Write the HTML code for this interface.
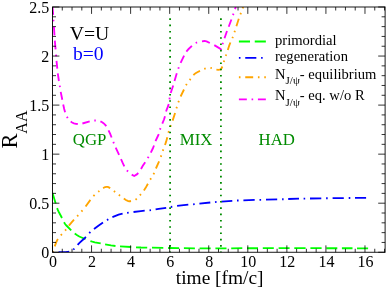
<!DOCTYPE html>
<html><head><meta charset="utf-8"><title>R_AA vs time</title>
<style>html,body{margin:0;padding:0;background:#fff;width:386px;height:288px;overflow:hidden}body{font-family:"Liberation Serif",serif;position:relative}</style>
</head><body>
<svg width="386" height="288" viewBox="0 0 386 288" style="display:block;position:absolute;left:0;top:0;will-change:transform" font-family="Liberation Serif, serif">
<rect width="386" height="288" fill="#fff"/>
<defs><clipPath id="c"><rect x="52.50" y="7.00" width="332.60" height="245.25"/></clipPath></defs>
<g fill="none" stroke-width="1.85" clip-path="url(#c)">
<path d="M52.5 193.0L55.7 203.6M57.1 208.1L57.9 210.2L58.8 212.0L62.0 218.0M64.0 222.3L65.1 224.0L66.4 225.5L71.2 230.4M74.7 233.5L77.2 235.2L79.3 236.5L81.6 237.5L85.5 239.1M90.4 241.1L92.3 241.7L94.8 242.3L100.7 243.4M105.1 244.3L111.0 245.4L115.5 246.0M120.0 246.3L131.2 247.0M136.0 247.3L141.0 247.5L147.2 247.6M152.0 247.6L163.3 247.8M168.1 248.0L179.1 248.2M183.9 248.2L194.9 248.3M199.6 248.4L210.7 248.4M215.4 248.4L226.5 248.3M231.2 248.3L242.3 248.2M247.0 248.2L258.0 248.2M262.8 248.1L273.8 248.1M278.6 248.1L289.6 248.1M294.3 248.1L305.6 248.1M310.4 248.1L321.6 248.1M326.4 248.2L337.3 248.2M341.9 248.2L352.5 248.2M357.0 248.3L368.1 248.3" stroke="#00ff00"/>
<path d="M52.5 252.3L54.0 252.3M58.6 252.2L66.5 252.0L68.0 251.9L69.2 251.7M73.3 249.6L74.4 248.6M77.6 244.8L79.5 242.8L84.0 238.8L85.9 236.9M89.2 233.2L90.4 232.0M94.0 229.0L98.4 225.7L103.0 222.6M107.0 220.1L108.3 219.3M112.4 217.2L118.6 214.7L120.5 214.1L122.6 213.6M127.1 212.8L128.7 212.6M133.5 212.0L140.8 211.1L144.7 210.7M149.5 210.4L151.0 210.2M155.6 209.3L158.7 208.8L166.2 207.8M170.8 207.0L172.3 206.7M177.1 205.8L181.4 205.3L188.3 204.7M193.1 204.3L194.7 204.1M199.4 203.7L210.3 202.5M215.0 202.1L216.6 201.9M221.3 201.6L232.3 200.8M237.0 200.5L238.6 200.5M243.4 200.3L254.7 199.9M259.5 199.8L261.1 199.8M266.0 199.6L277.2 199.4M282.1 199.2L283.6 199.2M288.2 199.0L299.0 198.7M303.6 198.6L305.2 198.6M310.0 198.5L321.3 198.3M326.1 198.2L327.7 198.2M332.6 198.2L343.8 198.1M348.7 198.0L350.3 198.0M355.0 197.9L366.1 197.8" stroke="#0000ff"/>
<path d="M52.5 252.3L53.0 250.8M54.7 246.3L56.4 241.9L57.0 240.6L57.9 239.0M60.8 235.3L61.9 234.1M65.1 230.6L66.1 229.4M68.9 225.6L71.4 222.6L74.0 219.7M77.2 216.3L78.2 215.1M81.4 211.5L82.5 210.3M85.6 206.5L90.4 199.9M93.4 196.1L94.6 194.9M98.2 191.8L99.4 190.9M103.1 188.1L104.2 187.5L105.1 187.1L106.5 186.8L107.4 186.8L108.4 187.1L110.2 188.1M113.9 191.0L115.1 192.0M118.8 194.8L120.1 195.7M123.8 198.6L125.9 200.0L127.7 200.9L129.1 201.2L130.1 201.2L131.0 201.0M135.5 199.7L136.8 198.8M139.9 195.3L140.9 194.1M143.9 190.4L145.8 187.6L147.9 183.7M150.2 179.6L151.1 178.3M153.5 174.3L154.2 172.9M155.9 168.5L159.1 161.3M160.8 156.9L161.3 155.4M162.8 150.9L163.3 149.4M165.0 145.0L166.2 141.4L167.3 137.3M168.4 132.7L168.9 131.1M170.4 126.6L170.9 125.1M172.6 120.6L175.1 113.0M176.4 108.4L176.9 106.9M178.3 102.3L178.9 100.9M180.6 96.5L184.0 89.5M186.0 85.2L186.8 83.9M189.7 80.1L190.6 78.9M193.4 75.1L194.4 74.1L195.6 73.2L197.3 72.2L200.0 70.9M204.2 68.8L205.7 68.3M210.4 67.9L211.9 68.2M216.4 69.6L218.3 69.8L220.8 69.5L221.8 67.8L222.4 66.5M223.8 61.9L224.2 60.4M225.7 55.9L226.3 54.5M227.8 50.0L229.3 45.3L230.4 42.5M232.3 38.2L233.0 36.8M234.5 32.3L234.9 30.8M236.4 26.3L238.8 18.7M240.4 14.3L241.0 12.8M242.6 8.4L243.1 6.9" stroke="#ffa500"/>
<path d="M52.5 7.0L53.2 14.9M53.4 19.7L53.5 21.4M53.9 26.6L54.5 35.4M54.8 40.6L55.6 49.4M56.0 54.6L56.1 56.3M56.5 60.9L57.3 68.6M57.8 73.3L58.9 81.0M59.7 85.6L60.0 87.1M60.7 91.9L62.3 99.8M63.2 104.5L64.2 109.0L65.1 112.3M66.9 116.7L67.7 118.1M70.7 121.5L72.1 122.5L73.9 123.3L75.9 123.8L77.8 124.0M82.4 123.5L89.7 121.3M94.3 120.5L95.8 120.5M100.4 121.3L101.8 122.0L103.5 123.1L105.0 124.6L106.3 126.2M108.5 130.3L110.1 133.7L111.6 137.5M113.3 141.9L113.9 143.3M115.7 147.7L119.1 154.8M121.0 159.2L122.8 163.2L124.3 166.3M126.9 170.3L128.0 171.5M131.7 174.6L134.2 176.0L136.8 174.4L138.3 173.0M141.0 169.0L142.8 165.8L145.2 162.2M147.8 158.1L148.6 156.7M150.8 152.6L152.8 148.5L154.0 145.5M155.5 141.1L157.9 136.0L158.8 134.1M160.0 129.6L160.5 128.1M162.3 123.7L164.0 119.5L165.0 116.2M166.1 111.5L166.6 109.8L168.3 105.6L168.7 104.0M169.5 99.3L169.7 97.7M170.7 93.0L173.2 85.5M174.5 80.9L176.8 73.3M178.3 68.7L178.8 67.2M180.6 62.8L184.1 55.7M186.4 51.6L187.2 50.5L188.6 49.0L191.9 45.9M195.7 43.0L197.1 42.4M202.0 41.3L204.2 41.0L205.7 41.1L207.1 41.6L209.8 43.0M214.3 45.1L221.2 49.3L221.3 49.0M222.5 44.2L223.0 42.7M224.5 38.3L227.0 31.0M228.7 26.7L231.4 19.5M233.0 15.1L233.5 13.6M235.0 9.1L237.6 1.6" stroke="#ff00ff"/>
<path d="M170.1 18.30v1.58M170.1 24.60v1.58M170.1 30.90v1.58M170.1 37.20v1.58M170.1 43.50v1.58M170.1 49.80v1.58M170.1 56.10v1.58M170.1 62.40v1.58M170.1 68.70v1.58M170.1 75.00v1.58M170.1 81.30v1.58M170.1 87.60v1.58M170.1 93.90v1.58M170.1 100.20v1.58M170.1 106.50v1.58M170.1 112.80v1.58M170.1 119.10v1.58M170.1 125.40v1.58M170.1 131.70v1.58M170.1 138.00v1.58M170.1 144.30v1.58M170.1 150.60v1.58M170.1 156.90v1.58M170.1 163.20v1.58M170.1 169.50v1.58M170.1 175.80v1.58M170.1 182.10v1.58M170.1 188.40v1.58M170.1 194.70v1.58M170.1 201.00v1.58M170.1 207.30v1.58M170.1 213.60v1.58M170.1 219.90v1.58M170.1 226.20v1.58M170.1 232.50v1.58M170.1 238.80v1.58M170.1 245.10v1.58M170.1 251.40v1.58" stroke="#008b00"/>
<path d="M220.9 18.30v1.58M220.9 24.60v1.58M220.9 30.90v1.58M220.9 37.20v1.58M220.9 43.50v1.58M220.9 49.80v1.58M220.9 56.10v1.58M220.9 62.40v1.58M220.9 68.70v1.58M220.9 75.00v1.58M220.9 81.30v1.58M220.9 87.60v1.58M220.9 93.90v1.58M220.9 100.20v1.58M220.9 106.50v1.58M220.9 112.80v1.58M220.9 119.10v1.58M220.9 125.40v1.58M220.9 131.70v1.58M220.9 138.00v1.58M220.9 144.30v1.58M220.9 150.60v1.58M220.9 156.90v1.58M220.9 163.20v1.58M220.9 169.50v1.58M220.9 175.80v1.58M220.9 182.10v1.58M220.9 188.40v1.58M220.9 194.70v1.58M220.9 201.00v1.58M220.9 207.30v1.58M220.9 213.60v1.58M220.9 219.90v1.58M220.9 226.20v1.58M220.9 232.50v1.58M220.9 238.80v1.58M220.9 245.10v1.58M220.9 251.40v1.58" stroke="#008b00"/>
</g>
<g fill="none" stroke-width="1.85">
<path d="M238.90 41.50H250.00M254.75 41.50H265.85" stroke="#00ff00"/>
<path d="M238.90 57.80H240.49M245.24 57.80H256.33M261.09 57.80H262.68" stroke="#0000ff"/>
<path d="M238.90 77.20H240.49M245.24 77.20H253.17M257.92 77.20H259.50M264.26 77.20H265.85" stroke="#ffa500"/>
<path d="M238.90 99.30H246.83M251.58 99.30H253.17M257.92 99.30H265.85" stroke="#ff00ff"/>
</g>
<rect x="52.50" y="7.00" width="332.60" height="245.25" stroke="#000" stroke-width="0.9" fill="none"/>
<g stroke="#000" stroke-width="0.8" fill="none">
<path d="M52.50 252.25v-6.90M52.50 7.00v6.90M62.27 252.25v-3.50M62.27 7.00v3.50M72.03 252.25v-3.50M72.03 7.00v3.50M81.80 252.25v-3.50M81.80 7.00v3.50M91.56 252.25v-6.90M91.56 7.00v6.90M101.33 252.25v-3.50M101.33 7.00v3.50M111.09 252.25v-3.50M111.09 7.00v3.50M120.86 252.25v-3.50M120.86 7.00v3.50M130.62 252.25v-6.90M130.62 7.00v6.90M140.38 252.25v-3.50M140.38 7.00v3.50M150.15 252.25v-3.50M150.15 7.00v3.50M159.92 252.25v-3.50M159.92 7.00v3.50M169.68 252.25v-6.90M169.68 7.00v6.90M179.44 252.25v-3.50M179.44 7.00v3.50M189.21 252.25v-3.50M189.21 7.00v3.50M198.98 252.25v-3.50M198.98 7.00v3.50M208.74 252.25v-6.90M208.74 7.00v6.90M218.50 252.25v-3.50M218.50 7.00v3.50M228.27 252.25v-3.50M228.27 7.00v3.50M238.04 252.25v-3.50M238.04 7.00v3.50M247.80 252.25v-6.90M247.80 7.00v6.90M257.56 252.25v-3.50M257.56 7.00v3.50M267.33 252.25v-3.50M267.33 7.00v3.50M277.10 252.25v-3.50M277.10 7.00v3.50M286.86 252.25v-6.90M286.86 7.00v6.90M296.62 252.25v-3.50M296.62 7.00v3.50M306.39 252.25v-3.50M306.39 7.00v3.50M316.16 252.25v-3.50M316.16 7.00v3.50M325.92 252.25v-6.90M325.92 7.00v6.90M335.69 252.25v-3.50M335.69 7.00v3.50M345.45 252.25v-3.50M345.45 7.00v3.50M355.22 252.25v-3.50M355.22 7.00v3.50M364.98 252.25v-6.90M364.98 7.00v6.90M374.75 252.25v-3.50M374.75 7.00v3.50M384.51 252.25v-3.50M384.51 7.00v3.50M52.50 252.25h6.90M385.10 252.25h-6.90M52.50 242.44h3.50M385.10 242.44h-3.50M52.50 232.63h3.50M385.10 232.63h-3.50M52.50 222.82h3.50M385.10 222.82h-3.50M52.50 213.01h3.50M385.10 213.01h-3.50M52.50 203.20h6.90M385.10 203.20h-6.90M52.50 193.39h3.50M385.10 193.39h-3.50M52.50 183.58h3.50M385.10 183.58h-3.50M52.50 173.77h3.50M385.10 173.77h-3.50M52.50 163.96h3.50M385.10 163.96h-3.50M52.50 154.15h6.90M385.10 154.15h-6.90M52.50 144.34h3.50M385.10 144.34h-3.50M52.50 134.53h3.50M385.10 134.53h-3.50M52.50 124.72h3.50M385.10 124.72h-3.50M52.50 114.91h3.50M385.10 114.91h-3.50M52.50 105.10h6.90M385.10 105.10h-6.90M52.50 95.29h3.50M385.10 95.29h-3.50M52.50 85.48h3.50M385.10 85.48h-3.50M52.50 75.67h3.50M385.10 75.67h-3.50M52.50 65.86h3.50M385.10 65.86h-3.50M52.50 56.05h6.90M385.10 56.05h-6.90M52.50 46.24h3.50M385.10 46.24h-3.50M52.50 36.43h3.50M385.10 36.43h-3.50M52.50 26.62h3.50M385.10 26.62h-3.50M52.50 16.81h3.50M385.10 16.81h-3.50M52.50 7.00h6.90M385.10 7.00h-6.90"/>
</g>
<g font-size="16" fill="#000">
<text x="53.00" y="267.4" text-anchor="middle">0</text>
<text x="92.06" y="267.4" text-anchor="middle">2</text>
<text x="131.12" y="267.4" text-anchor="middle">4</text>
<text x="170.18" y="267.4" text-anchor="middle">6</text>
<text x="209.24" y="267.4" text-anchor="middle">8</text>
<text x="248.30" y="267.4" text-anchor="middle">10</text>
<text x="287.36" y="267.4" text-anchor="middle">12</text>
<text x="326.42" y="267.4" text-anchor="middle">14</text>
<text x="365.48" y="267.4" text-anchor="middle">16</text>
<text x="49.2" y="257.85" text-anchor="end">0</text>
<text x="49.2" y="208.80" text-anchor="end">0.5</text>
<text x="49.2" y="159.75" text-anchor="end">1</text>
<text x="49.2" y="110.70" text-anchor="end">1.5</text>
<text x="49.2" y="61.65" text-anchor="end">2</text>
<text x="49.2" y="12.60" text-anchor="end">2.5</text>
</g>
<text x="219.7" y="284" font-size="19.4" text-anchor="middle">time [fm/c]</text>
<text transform="translate(16.7,148.6) rotate(-90)" font-size="22.4">R<tspan font-size="16" dy="10.3">AA</tspan></text>
<text x="69.8" y="39.6" font-size="19.7">V=U</text>
<text x="73" y="60.4" font-size="19.6" fill="#0000ff">b=0</text>
<g font-size="16.8" fill="#008b00"><text x="72.8" y="145.3">QGP</text><text x="179.8" y="145.3">MIX</text><text x="258.6" y="145.3">HAD</text></g>
<g font-size="14.6" fill="#000">
<text x="275" y="44.9">primordial</text>
<text x="275" y="60.7">regeneration</text>
<text x="275" y="78.5">N<tspan font-size="11" dy="5.6">J/ψ</tspan><tspan dy="-5.6">- equilibrium</tspan></text>
<text x="275" y="100">N<tspan font-size="11" dy="5.6">J/ψ</tspan><tspan dy="-5.6">- eq. w/o R</tspan></text>
</g>
</svg>
</body></html>
